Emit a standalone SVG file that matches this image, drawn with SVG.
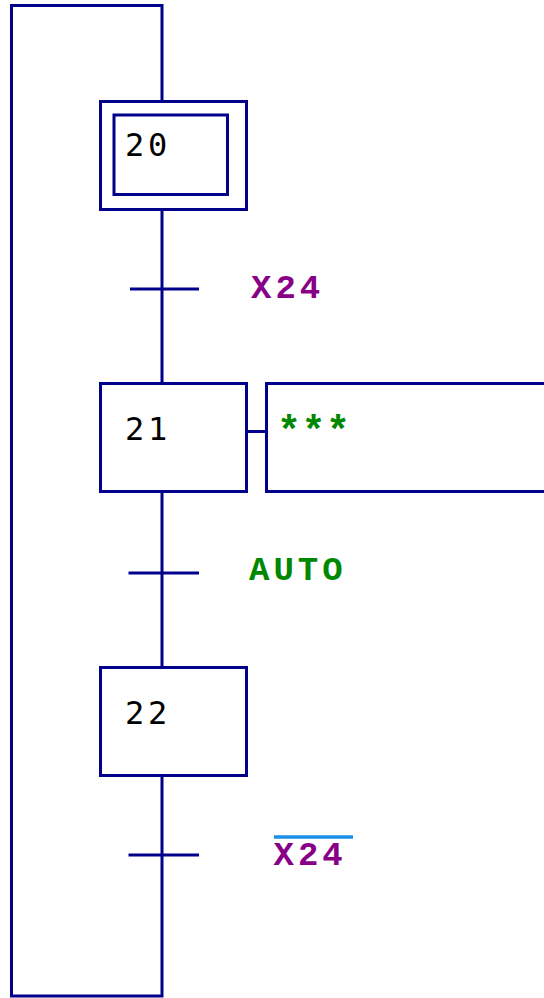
<svg xmlns="http://www.w3.org/2000/svg" width="544" height="998" viewBox="0 0 544 998">
<style>
.ln{stroke:#00008b;stroke-width:3;fill:none}
.bx{stroke:#00008b;stroke-width:3;fill:#ffffff}
.num{font-family:"DejaVu Sans Mono",monospace;font-size:32px;letter-spacing:3.7px;fill:#000000}
.cond{font-family:"Liberation Mono",monospace;font-weight:bold;font-size:34px;letter-spacing:4px}
.stars{font-family:"Liberation Mono",monospace;font-weight:bold;font-size:40px;letter-spacing:0.5px}
.purple{fill:#880088}
.green{fill:#008800}
</style>
<rect width="544" height="998" fill="#ffffff"/>
<g id="connectors">
<path class="ln" d="M162 101.5 V5.5 H11.5 V996 H162 V775.5"/>
<path class="ln" d="M162 209.5 V383.5"/>
<path class="ln" d="M162 491.5 V667.5"/>
<path class="ln" d="M245.5 431.5 H266.5"/>
</g>
<g id="step20">
<rect class="bx" x="100.5" y="101.5" width="146" height="108"/>
<rect class="bx" x="114" y="115" width="113.5" height="79.5"/>
<text class="num" x="125" y="156">20</text>
</g>
<g id="t20_21">
<line class="ln" x1="130" y1="289" x2="199" y2="289"/>
<text class="cond purple" x="251" y="298">X24</text>
</g>
<g id="step21">
<rect class="bx" x="100.5" y="383.5" width="146" height="108"/>
<text class="num" x="125" y="440">21</text>
</g>
<g id="action21">
<rect class="bx" x="266.5" y="383.5" width="290" height="108"/>
<text class="stars green" x="277" y="444">***</text>
</g>
<g id="t21_22">
<line class="ln" x1="128.5" y1="573" x2="199" y2="573"/>
<text class="cond green" x="249" y="580">AUTO</text>
</g>
<g id="step22">
<rect class="bx" x="100.5" y="667.5" width="146" height="108"/>
<text class="num" x="125" y="724">22</text>
</g>
<g id="t22_20">
<line class="ln" x1="128.5" y1="855" x2="199" y2="855"/>
<text class="cond purple" x="273.5" y="865">X24</text>
<line x1="274" y1="837" x2="353" y2="837" stroke="#1a8fe8" stroke-width="3.5"/>
</g>
</svg>
